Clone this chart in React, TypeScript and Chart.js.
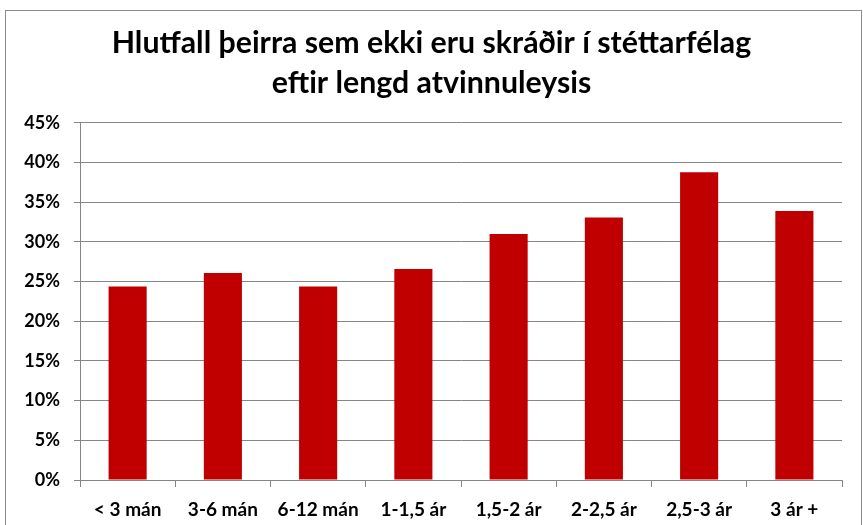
import React, { useEffect, useRef } from "react";
import { Chart, registerables } from "chart.js";

Chart.register(...registerables);

const categories = ["< 3 mán", "3-6 mán", "6-12 mán", "1-1,5 ár", "1,5-2 ár", "2-2,5 ár", "2,5-3 ár", "3 ár +"];
const values = [24.4, 26.1, 24.4, 26.6, 31.0, 33.1, 38.8, 33.9];
const titleLines = ["Hlutfall þeirra sem ekki eru skráðir í stéttarfélag", "eftir lengd atvinnuleysis"];
const yMax = 45;
const yStep = 5;

const FONT = "Lato, 'Open Sans', sans-serif";

const borderPlugin = {
  id: "outerBorder",
  afterDraw(chart: any) {
    const ctx = chart.ctx;
    ctx.save();
    ctx.strokeStyle = "#8c8c8c";
    ctx.lineWidth = 1;
    ctx.strokeRect(5.5, 10.5, 856, 600);
    ctx.restore();
  },
};

export default function App() {
  const ref = useRef<HTMLCanvasElement>(null);
  useEffect(() => {
    document.body.style.margin = "0";
    const chart = new Chart(ref.current!, {
      type: "bar",
      data: {
        labels: categories,
        datasets: [
          {
            data: values,
            backgroundColor: "#C00000",
            borderWidth: 0,
            barPercentage: 0.4,
            categoryPercentage: 1,
          },
        ],
      },
      plugins: [borderPlugin],
      options: {
        animation: false,
        responsive: false,
        maintainAspectRatio: false,
        layout: { padding: { top: 0, left: 21, right: 21, bottom: 0 } },
        plugins: {
          legend: { display: false },
          tooltip: { enabled: false },
          title: {
            display: true,
            text: titleLines,
            color: "#000",
            font: { family: FONT, size: 30.3, weight: "bold", lineHeight: 1.32 },
            padding: { top: 23, bottom: 20 },
          },
        },
        scales: {
          x: {
            grid: {
              drawOnChartArea: false,
              drawTicks: true,
              tickLength: 7,
              color: "#868686",
              offset: true,
            },
            border: { color: "#868686", width: 1 },
            ticks: {
              color: "#000",
              font: { family: FONT, size: 19, weight: "bold" },
              padding: 11,
              maxRotation: 0,
              autoSkip: false,
            },
            afterFit(scale: any) {
              scale.height = 45;
            },
          },
          y: {
            min: 0,
            max: yMax,
            grid: { color: "#868686", tickLength: 6, drawTicks: true },
            border: { color: "#868686", width: 1 },
            ticks: {
              stepSize: yStep,
              color: "#000",
              font: { family: FONT, size: 18, weight: "bold" },
              padding: 14,
              callback: (v: any) => v + "%",
            },
            afterFit(scale: any) {
              scale.width = 59;
            },
          },
        },
      },
    });
    return () => chart.destroy();
  }, []);
  return (
    <div style={{ position: "absolute", left: 0, top: 0, width: 863, height: 525 }}>
      <canvas ref={ref} width={863} height={525} style={{ width: 863, height: 525 }} />
    </div>
  );
}
